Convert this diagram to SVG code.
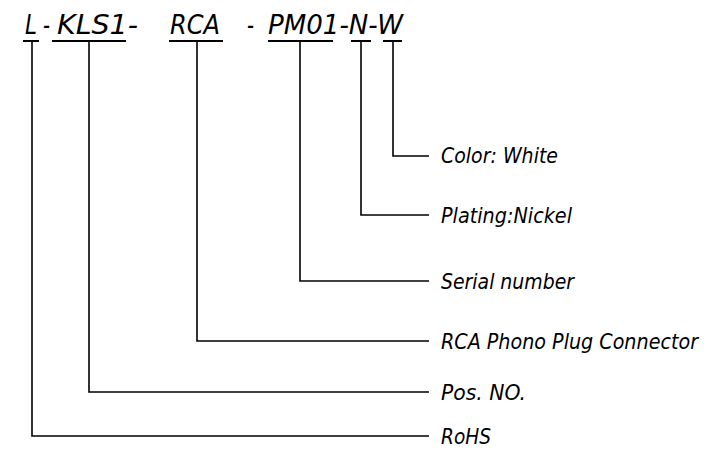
<svg xmlns="http://www.w3.org/2000/svg" width="727" height="450" viewBox="0 0 727 450">
<style>
text{font-family:"DejaVu Sans Condensed","DejaVu Sans",sans-serif;font-stretch:condensed;font-style:italic;fill:#000}
.code{font-size:26px}
.lbl{font-size:21px}
.ln{stroke:#000;stroke-width:1.6;fill:none}
.ul{stroke:#000;stroke-width:2;fill:none}
</style>
<rect width="727" height="450" fill="#fff"/>
<g id="code">
<g id="seg-L"><text class="code" x="25" y="34" textLength="12" lengthAdjust="spacingAndGlyphs">L</text></g>
<text class="code" x="43" y="34" textLength="7" lengthAdjust="spacingAndGlyphs">-</text>
<g id="seg-KLS1"><text class="code" x="57" y="34" textLength="81" lengthAdjust="spacingAndGlyphs">KLS1-</text></g>
<g id="seg-RCA"><text class="code" x="170" y="34" textLength="50" lengthAdjust="spacingAndGlyphs">RCA</text></g>
<text class="code" x="247" y="34" textLength="7" lengthAdjust="spacingAndGlyphs">-</text>
<g id="seg-PM01"><text class="code" x="268" y="34" textLength="135" lengthAdjust="spacingAndGlyphs">PM01-N-W</text></g>
</g>
<g id="connectors">
<path class="ul" d="M23 41H39M52 41H126M169 41H223M268 41H333M351 41H371M383 41H402"/>
<path class="ln" d="M393 41V156H429"/>
<path class="ln" d="M361 41V215H429"/>
<path class="ln" d="M300 41V281H429"/>
<path class="ln" d="M197 41V341H429"/>
<path class="ln" d="M89 41V392H429"/>
<path class="ln" d="M32 41V436H429"/>
</g>
<g id="label-color"><text class="lbl" x="441" y="163" textLength="117" lengthAdjust="spacingAndGlyphs">Color: White</text></g>
<g id="label-plating"><text class="lbl" x="441" y="223" textLength="131" lengthAdjust="spacingAndGlyphs">Plating:Nickel</text></g>
<g id="label-serial"><text class="lbl" x="441" y="289" textLength="133" lengthAdjust="spacingAndGlyphs">Serial number</text></g>
<g id="label-rca"><text class="lbl" x="441" y="349" textLength="257" lengthAdjust="spacingAndGlyphs">RCA Phono Plug Connector</text></g>
<g id="label-pos"><text class="lbl" x="441" y="400" textLength="85" lengthAdjust="spacingAndGlyphs">Pos. NO.</text></g>
<g id="label-rohs"><text class="lbl" x="441" y="444" textLength="50" lengthAdjust="spacingAndGlyphs">RoHS</text></g>
</svg>
